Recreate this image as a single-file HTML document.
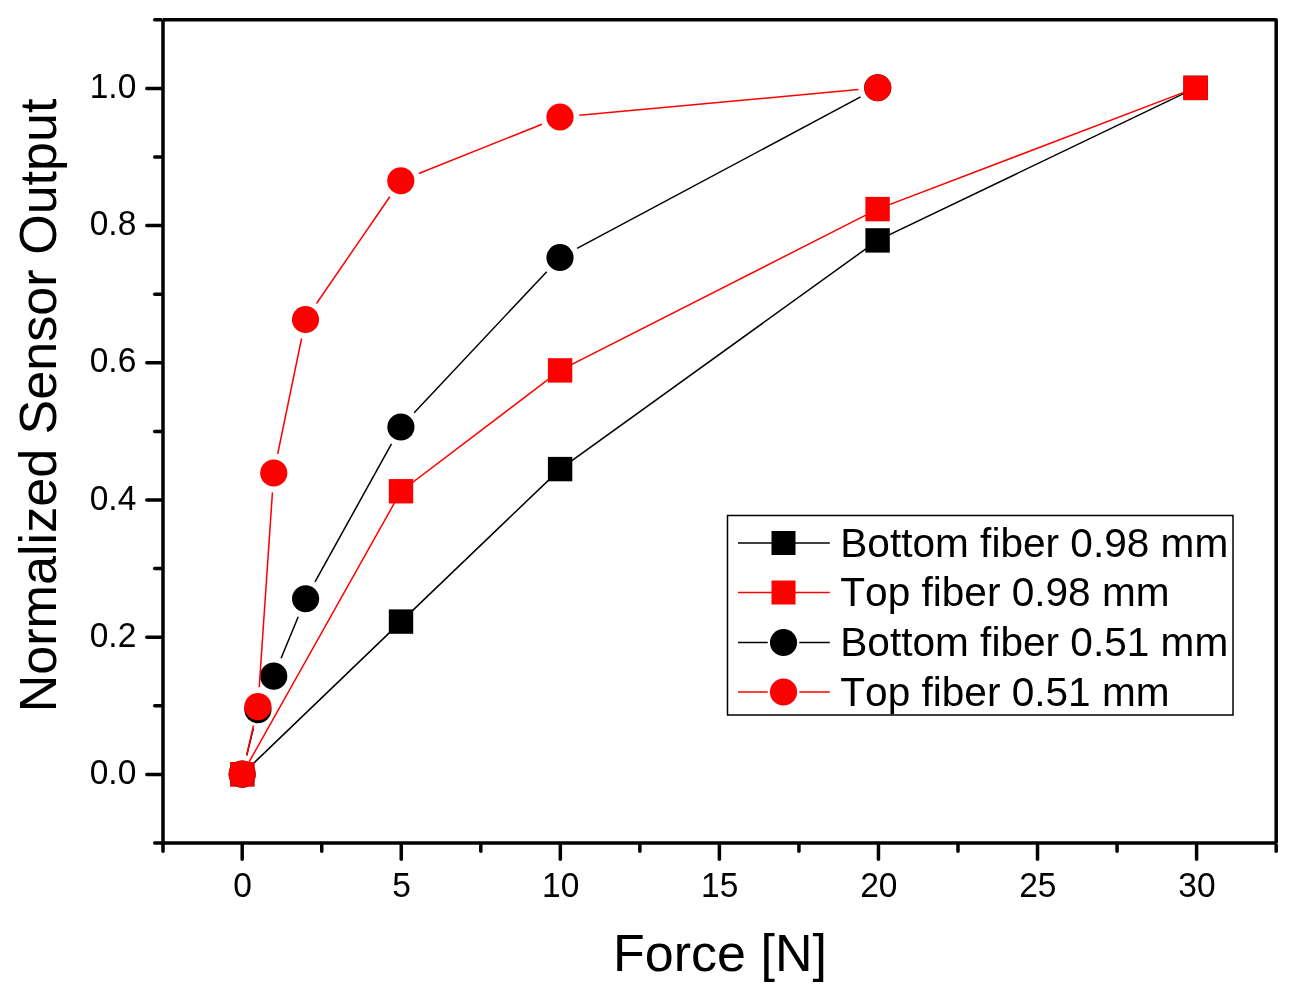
<!DOCTYPE html>
<html><head><meta charset="utf-8"><title>Chart</title>
<style>html,body{margin:0;padding:0;background:#fff}svg{display:block;will-change:transform}text{font-family:"Liberation Sans",sans-serif;fill:#000;font-kerning:none;font-variant-ligatures:none}</style></head>
<body>
<svg width="1296" height="1000" viewBox="0 0 1296 1000">
<rect x="0" y="0" width="1296" height="1000" fill="#fff"/>
<g>
<polyline fill="none" stroke="#000" stroke-width="1.50" points="242.20,774.20 401.00,621.60 560.10,469.10 877.60,240.40 1195.60,87.90"/>
<rect fill="#000" x="230.00" y="762.00" width="24.40" height="24.40"/>
<rect fill="#000" x="388.80" y="609.40" width="24.40" height="24.40"/>
<rect fill="#000" x="547.90" y="456.90" width="24.40" height="24.40"/>
<rect fill="#000" x="865.40" y="228.20" width="24.40" height="24.40"/>
<rect fill="#000" x="1183.40" y="75.70" width="24.40" height="24.40"/>
<polyline fill="none" stroke="#f00" stroke-width="1.50" points="242.20,774.20 401.00,491.25 560.10,370.40 877.60,209.10 1195.60,87.90"/>
<rect fill="#f00" x="230.00" y="762.00" width="24.40" height="24.40"/>
<rect fill="#f00" x="388.80" y="479.05" width="24.40" height="24.40"/>
<rect fill="#f00" x="547.90" y="358.20" width="24.40" height="24.40"/>
<rect fill="#f00" x="865.40" y="196.90" width="24.40" height="24.40"/>
<rect fill="#f00" x="1183.40" y="75.70" width="24.40" height="24.40"/>
<line stroke="#000" stroke-width="1.50" x1="246.78" y1="755.35" x2="253.32" y2="728.45"/>
<line stroke="#000" stroke-width="1.50" x1="281.09" y1="658.26" x2="298.21" y2="616.69"/>
<line stroke="#000" stroke-width="1.50" x1="315.01" y1="581.79" x2="391.49" y2="443.96"/>
<line stroke="#000" stroke-width="1.50" x1="414.18" y1="412.86" x2="546.72" y2="271.64"/>
<line stroke="#000" stroke-width="1.50" x1="577.11" y1="248.36" x2="860.59" y2="96.89"/>
<circle fill="#000" cx="242.20" cy="774.20" r="13.60"/>
<circle fill="#000" cx="257.90" cy="709.60" r="13.60"/>
<circle fill="#000" cx="273.70" cy="676.20" r="13.60"/>
<circle fill="#000" cx="305.60" cy="598.75" r="13.60"/>
<circle fill="#000" cx="400.90" cy="427.00" r="13.60"/>
<circle fill="#000" cx="560.00" cy="257.50" r="13.60"/>
<circle fill="#000" cx="877.70" cy="87.75" r="13.60"/>
<line stroke="#f00" stroke-width="1.50" x1="246.59" y1="755.30" x2="253.51" y2="725.50"/>
<line stroke="#f00" stroke-width="1.50" x1="259.21" y1="687.24" x2="272.44" y2="492.36"/>
<line stroke="#f00" stroke-width="1.50" x1="277.68" y1="454.00" x2="301.57" y2="338.50"/>
<line stroke="#f00" stroke-width="1.50" x1="316.48" y1="303.51" x2="389.82" y2="196.74"/>
<line stroke="#f00" stroke-width="1.50" x1="418.81" y1="173.54" x2="541.99" y2="124.21"/>
<line stroke="#f00" stroke-width="1.50" x1="579.32" y1="115.22" x2="858.43" y2="89.53"/>
<circle fill="#f00" cx="242.20" cy="774.20" r="13.60"/>
<circle fill="#f00" cx="257.90" cy="706.60" r="13.60"/>
<circle fill="#f00" cx="273.75" cy="473.00" r="13.60"/>
<circle fill="#f00" cx="305.50" cy="319.50" r="13.60"/>
<circle fill="#f00" cx="400.80" cy="180.75" r="13.60"/>
<circle fill="#f00" cx="560.00" cy="117.00" r="13.60"/>
<circle fill="#f00" cx="877.75" cy="87.75" r="13.60"/>
</g>
<g stroke="#000" stroke-width="3.50" fill="none" stroke-linecap="round">
<path stroke-linecap="butt" stroke-linejoin="round" d="M163.00 19.70 L1276.20 19.70 L1276.20 843.00"/>
<path stroke-linecap="butt" stroke-linejoin="miter" d="M163.00 19.70 L163.00 843.00 L1276.20 843.00"/>
<line x1="154.70" y1="843.00" x2="161.25" y2="843.00"/>
<line x1="146.80" y1="774.40" x2="161.25" y2="774.40"/>
<line x1="154.70" y1="705.80" x2="161.25" y2="705.80"/>
<line x1="146.80" y1="637.20" x2="161.25" y2="637.20"/>
<line x1="154.70" y1="568.60" x2="161.25" y2="568.60"/>
<line x1="146.80" y1="500.00" x2="161.25" y2="500.00"/>
<line x1="154.70" y1="431.40" x2="161.25" y2="431.40"/>
<line x1="146.80" y1="362.80" x2="161.25" y2="362.80"/>
<line x1="154.70" y1="294.20" x2="161.25" y2="294.20"/>
<line x1="146.80" y1="225.60" x2="161.25" y2="225.60"/>
<line x1="154.70" y1="157.00" x2="161.25" y2="157.00"/>
<line x1="146.80" y1="88.40" x2="161.25" y2="88.40"/>
<line x1="154.70" y1="19.70" x2="161.25" y2="19.70"/>
<line x1="163.00" y1="844.75" x2="163.00" y2="851.30"/>
<line x1="242.20" y1="844.75" x2="242.20" y2="859.20"/>
<line x1="321.73" y1="844.75" x2="321.73" y2="851.30"/>
<line x1="401.26" y1="844.75" x2="401.26" y2="859.20"/>
<line x1="480.80" y1="844.75" x2="480.80" y2="851.30"/>
<line x1="560.33" y1="844.75" x2="560.33" y2="859.20"/>
<line x1="639.86" y1="844.75" x2="639.86" y2="851.30"/>
<line x1="719.39" y1="844.75" x2="719.39" y2="859.20"/>
<line x1="798.93" y1="844.75" x2="798.93" y2="851.30"/>
<line x1="878.46" y1="844.75" x2="878.46" y2="859.20"/>
<line x1="957.99" y1="844.75" x2="957.99" y2="851.30"/>
<line x1="1037.52" y1="844.75" x2="1037.52" y2="859.20"/>
<line x1="1117.06" y1="844.75" x2="1117.06" y2="851.30"/>
<line x1="1196.59" y1="844.75" x2="1196.59" y2="859.20"/>
<line x1="1276.20" y1="844.75" x2="1276.20" y2="851.30"/>
</g>
<g font-size="33.5">
<text transform="translate(136.3 784.00) scale(1 1.05)" text-anchor="end">0.0</text>
<text transform="translate(136.3 646.80) scale(1 1.05)" text-anchor="end">0.2</text>
<text transform="translate(136.3 509.60) scale(1 1.05)" text-anchor="end">0.4</text>
<text transform="translate(136.3 372.40) scale(1 1.05)" text-anchor="end">0.6</text>
<text transform="translate(136.3 235.20) scale(1 1.05)" text-anchor="end">0.8</text>
<text transform="translate(136.3 98.00) scale(1 1.05)" text-anchor="end">1.0</text>
<text transform="translate(242.50 897.1) scale(1 1.05)" text-anchor="middle">0</text>
<text transform="translate(401.56 897.1) scale(1 1.05)" text-anchor="middle">5</text>
<text transform="translate(560.63 897.1) scale(1 1.05)" text-anchor="middle">10</text>
<text transform="translate(719.69 897.1) scale(1 1.05)" text-anchor="middle">15</text>
<text transform="translate(878.76 897.1) scale(1 1.05)" text-anchor="middle">20</text>
<text transform="translate(1037.82 897.1) scale(1 1.05)" text-anchor="middle">25</text>
<text transform="translate(1196.89 897.1) scale(1 1.05)" text-anchor="middle">30</text>
</g>
<text font-size="52" text-anchor="middle" x="720" y="971.2">Force [N]</text>
<text font-size="52.1" text-anchor="middle" transform="translate(56.3 405.4) rotate(-90)">Normalized Sensor Output</text>
<rect x="727.5" y="515.5" width="505.5" height="199.5" fill="#fff" stroke="#000" stroke-width="1.5"/>
<line stroke="#000" stroke-width="1.50" x1="738" y1="543.00" x2="829.8" y2="543.00"/>
<rect fill="#000" x="771.50" y="531.00" width="24" height="24"/>
<text font-size="40.6" x="840.3" y="556.80">Bottom fiber 0.98 mm</text>
<line stroke="#f00" stroke-width="1.50" x1="738" y1="592.50" x2="829.8" y2="592.50"/>
<rect fill="#f00" x="771.50" y="580.50" width="24" height="24"/>
<text font-size="40.6" x="840.3" y="606.30">Top fiber 0.98 mm</text>
<line stroke="#000" stroke-width="1.50" x1="738" y1="642.50" x2="767.75" y2="642.50"/>
<line stroke="#000" stroke-width="1.50" x1="799.25" y1="642.50" x2="829.8" y2="642.50"/>
<circle fill="#000" cx="783.5" cy="642.50" r="13.60"/>
<text font-size="40.6" x="840.3" y="655.80">Bottom fiber 0.51 mm</text>
<line stroke="#f00" stroke-width="1.50" x1="738" y1="692.00" x2="767.75" y2="692.00"/>
<line stroke="#f00" stroke-width="1.50" x1="799.25" y1="692.00" x2="829.8" y2="692.00"/>
<circle fill="#f00" cx="783.5" cy="692.00" r="13.60"/>
<text font-size="40.6" x="840.3" y="705.50">Top fiber 0.51 mm</text>
</svg></body></html>
